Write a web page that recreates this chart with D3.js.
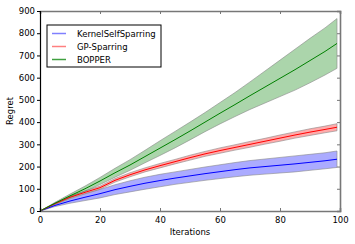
<!DOCTYPE html>
<html>
<head>
<meta charset="utf-8">
<script src="https://cdn.jsdelivr.net/npm/d3@7"></script>
<style>
  body { margin: 0; background: #fff; }
  svg text { font-family: "DejaVu Sans", sans-serif; }
</style>
</head>
<body>
<div class="chart"></div>
<script>
const iters = [0, 5, 10, 15, 20, 25, 30, 35, 40, 45, 50, 55, 60, 65, 70, 75, 80, 85, 90, 95, 99];

// mean regret per method
const kssMean   = [0, 25, 45, 62, 78, 96, 111, 125, 137, 148, 158, 168, 177, 186, 194, 200, 206, 212, 219, 226, 233];
const gpMean    = [0, 33, 62, 84, 105, 138, 163, 185, 204, 222, 240, 257, 272, 286, 300, 314, 328, 342, 355, 367, 377];
const bopMean   = [0, 35, 68, 100, 135, 172, 207, 245, 283, 321, 360, 400, 440, 479, 519, 558, 597, 636, 677, 718, 754];

// half width of shaded band
const kssSpread = [0, 5, 10, 15, 19, 22, 25, 27, 28, 28, 29, 30, 31, 32, 33, 34, 35, 36, 36, 36, 37];
const gpSpread  = [0, 3, 5, 6, 7, 8, 9, 9, 10, 10, 11, 11, 12, 12, 13, 13, 14, 14, 15, 15, 16];
const bopSpread = [0, 4, 8, 12, 16, 20, 24, 28, 33, 37, 40, 43, 48, 54, 62, 72, 82, 92, 100, 106, 112];

const seriesNames = ["KernelSelfSparring", "GP-Sparring", "BOPPER"];
const xTicks = [0, 20, 40, 60, 80, 100];
const yTicks = [0, 100, 200, 300, 400, 500, 600, 700, 800, 900];

const margin = {top: 11, left: 40, right: 15, bottom: 33};
const width = 355 - margin.left - margin.right;
const height = 244 - margin.top - margin.bottom;

const svg = d3.select(".chart").append("svg")
    .attr("width", 355)
    .attr("height", 244)
    .append("g")
    .attr("transform", "translate(" + margin.left + "," + margin.top + ")");

const xScale = d3.scaleLinear().domain([0, 100]).range([0, width]);
const yScale = d3.scaleLinear().domain([0, 900]).range([height, 0]);

const series = [
    {name: seriesNames[0], mean: kssMean, spread: kssSpread, line: "#0000ff", band: "#0000ff", legend: "#8080ff"},
    {name: seriesNames[1], mean: gpMean, spread: gpSpread, line: "#ff0000", band: "#ff0000", legend: "#ff8080"},
    {name: seriesNames[2], mean: bopMean, spread: bopSpread, line: "#008000", band: "#008000", legend: "#40a040"}
];

const area = d3.area()
    .x((d, i) => xScale(iters[i]))
    .y0(d => yScale(d[0]))
    .y1(d => yScale(d[1]));

const line = d3.line()
    .x((d, i) => xScale(iters[i]))
    .y(d => yScale(d));

// bands first, then lines on top
series.forEach(s => {
    const pts = s.mean.map((m, i) => [m - s.spread[i], m + s.spread[i]]);
    svg.append("path")
        .attr("d", area(pts))
        .attr("fill", s.band)
        .attr("fill-opacity", 0.33)
        .attr("stroke", "#888")
        .attr("stroke-opacity", 0.6)
        .attr("stroke-width", 1);
});

series.forEach(s => {
    svg.append("path")
        .attr("d", line(s.mean))
        .attr("fill", "none")
        .attr("stroke", s.line)
        .attr("stroke-width", 1);
});

// axes
const xAxis = d3.axisBottom(xScale).tickValues(xTicks).tickSize(-3).tickPadding(6);
svg.append("g")
    .attr("class", "axis x-axis")
    .attr("transform", `translate(0, ${height})`)
    .call(xAxis);

const xTop = d3.axisTop(xScale).tickValues(xTicks).tickSize(-3).tickFormat("");
svg.append("g").attr("class", "axis x-top").call(xTop);

const yAxis = d3.axisLeft(yScale).tickValues(yTicks).tickSize(3).tickPadding(2);
svg.append("g").attr("class", "axis y-axis").call(yAxis);

const yRight = d3.axisRight(yScale).tickValues(yTicks).tickSize(-3).tickFormat("");
svg.append("g").attr("class", "axis y-right")
    .attr("transform", `translate(${width}, 0)`)
    .call(yRight);

svg.selectAll(".axis text")
    .attr("font-size", 8.5)
    .attr("fill", "#000");
svg.selectAll(".x-axis .domain, .x-top .domain, .y-right .domain")
    .attr("stroke", "#777")
    .attr("stroke-width", 1.6);
svg.selectAll(".x-axis .tick line, .x-top .tick line, .y-right .tick line")
    .attr("stroke", "#777");
svg.select(".y-axis .domain").attr("stroke", "#000").attr("stroke-width", 1.2);
svg.selectAll(".y-axis .tick line").attr("stroke", "#000");

// axis titles
svg.append("text")
    .attr("x", width / 2)
    .attr("y", height + 24)
    .attr("text-anchor", "middle")
    .attr("font-size", 8.5)
    .text("Iterations");

svg.append("text")
    .attr("transform", `translate(${-27}, ${height / 2}) rotate(-90)`)
    .attr("text-anchor", "middle")
    .attr("font-size", 8.5)
    .text("Regret");

// legend
const legend = svg.append("g").attr("transform", "translate(7, 14)");
legend.append("rect")
    .attr("x", 0).attr("y", 0)
    .attr("width", 114).attr("height", 42)
    .attr("fill", "#fff")
    .attr("stroke", "#000")
    .attr("stroke-width", 1);

series.forEach((s, i) => {
    const yy = 8.5 + i * 13;
    legend.append("line")
        .attr("x1", 5).attr("x2", 19)
        .attr("y1", yy).attr("y2", yy)
        .attr("stroke", s.legend)
        .attr("stroke-width", 1.5);
    legend.append("text")
        .attr("x", 30).attr("y", yy + 3)
        .attr("font-size", 8.5)
        .text(s.name);
});
</script>
</body>
</html>
